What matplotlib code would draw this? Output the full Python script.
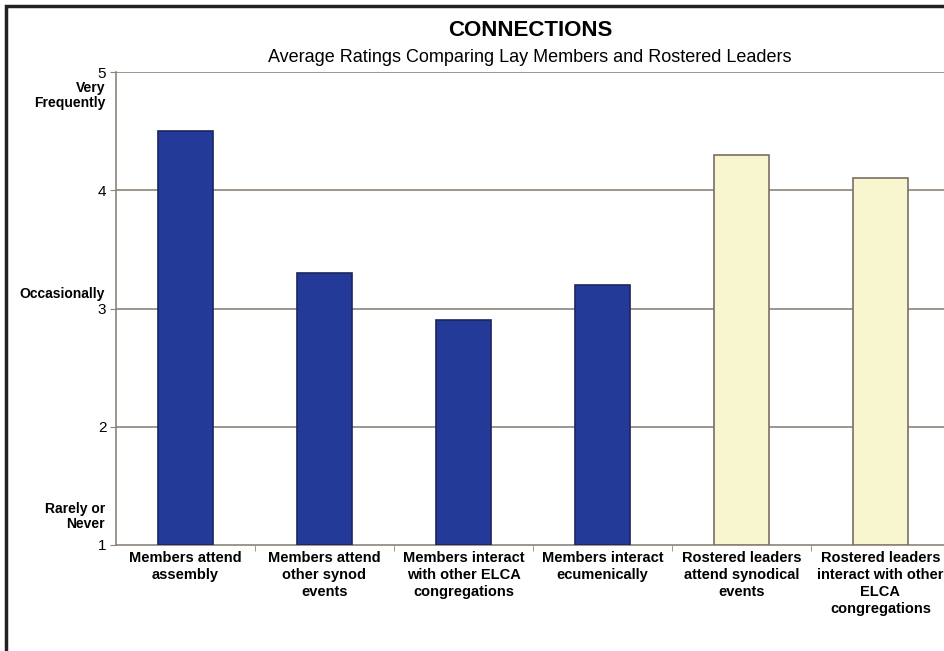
import matplotlib.pyplot as plt
from matplotlib.patches import Rectangle
from matplotlib.transforms import blended_transform_factory
import numpy as np

plt.rcParams['font.family'] = ['Liberation Sans', 'DejaVu Sans']

categories = ["Members attend\nassembly",
              "Members attend\nother synod\nevents",
              "Members interact\nwith other ELCA\ncongregations",
              "Members interact\necumenically",
              "Rostered leaders\nattend synodical\nevents",
              "Rostered leaders\ninteract with other\nELCA\ncongregations"]
ratings = [4.5, 3.3, 2.9, 3.2, 4.3, 4.1]
groups = ["lay", "lay", "lay", "lay", "leader", "leader"]

scale_labels = ["Very\nFrequently", "Occasionally", "Rarely or\nNever"]
scale_pos = [4.80, 3.12, 1.24]

fill = {"lay": "#243a99", "leader": "#f8f6cf"}
edge = {"lay": "#1c2560", "leader": "#7a6e64"}
grid_col = "#8c847c"

fig = plt.figure(figsize=(9.45, 6.51), dpi=100)
ax = fig.add_axes([116 / 945, 1 - 545 / 651, 834 / 945, 473 / 651])

x = np.arange(len(categories))
for xi, v, g in zip(x, ratings, groups):
    ax.bar(xi, v - 1, bottom=1, width=0.4, color=fill[g], edgecolor=edge[g],
           linewidth=1.2, zorder=3)

ax.set_xlim(-0.5, len(categories) - 0.5)
ax.set_ylim(1, 5)
ax.set_yticks([1, 2, 3, 4, 5])
ax.set_yticklabels(["1", "2", "3", "4", "5"], fontsize=11)
for yv in [2, 3, 4, 5]:
    ax.axhline(yv, color=grid_col, linewidth=1.2, zorder=1)

ax.set_xticks(x)
ax.set_xticklabels(categories, fontsize=10.5, fontweight='bold', linespacing=1.3)
ax.tick_params(axis='x', which='major', length=0, pad=4)
ax.set_xticks(np.arange(len(categories)) + 0.5, minor=True)
ax.tick_params(axis='x', which='minor', length=4, color=grid_col)
ax.tick_params(axis='y', length=4, color=grid_col, pad=3)

for s in ['top', 'right']:
    ax.spines[s].set_visible(False)
for s in ['left', 'bottom']:
    ax.spines[s].set_color(grid_col)
    ax.spines[s].set_linewidth(1.2)

trans = blended_transform_factory(ax.transAxes, ax.transData)
for lab, yp in zip(scale_labels, scale_pos):
    ax.text(-0.013, yp, lab, transform=trans, ha='right', va='center',
            fontsize=10, fontweight='bold', linespacing=1.1)

fig.text(530 / 945, 1 - 31 / 651, "CONNECTIONS", ha='center', va='center',
         fontsize=16, fontweight='bold')
fig.text(530 / 945, 1 - 58 / 651,
         "Average Ratings Comparing Lay Members and Rostered Leaders",
         ha='center', va='center', fontsize=13)

# outer frame, open to the right and bottom edges
fig.patches.append(Rectangle((6 / 945, -0.05), 1.2, 1 - 6 / 651 + 0.05,
                             transform=fig.transFigure, fill=False,
                             edgecolor='#222222', linewidth=2.5))

fig.savefig("out.png", dpi=100)
